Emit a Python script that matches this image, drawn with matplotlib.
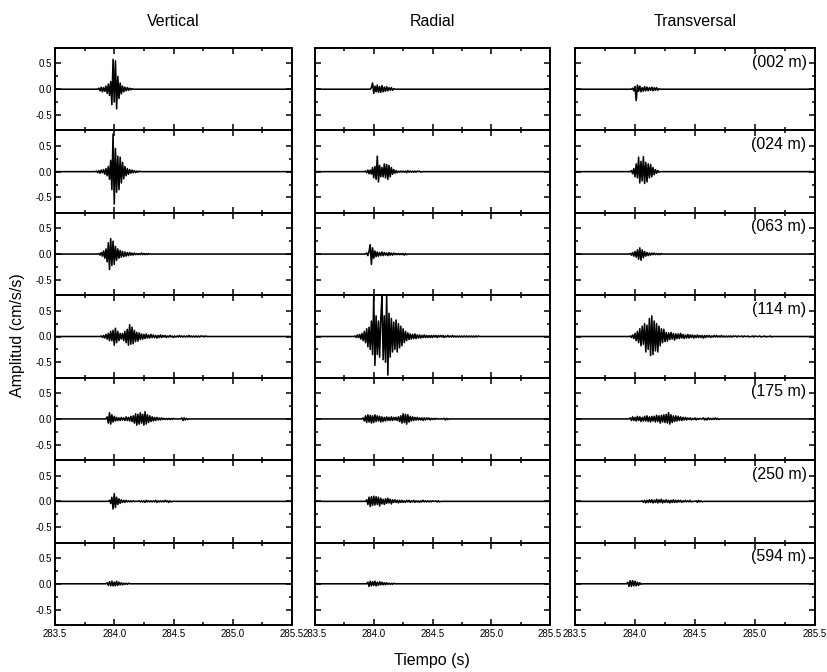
import numpy as np
import matplotlib
matplotlib.use("Agg")
import matplotlib.pyplot as plt
from matplotlib.ticker import MultipleLocator, FixedFormatter, FixedLocator

plt.rcParams['font.family'] = ['Liberation Sans', 'DejaVu Sans']

# time axis of every record (s), sampled every 0.01 s
T0, T1, DT = 283.5, 285.5, 0.01
t = np.round(np.arange(T0, T1 + DT / 2, DT), 2)

depths = ["(002 m)", "(024 m)", "(063 m)", "(114 m)", "(175 m)", "(250 m)", "(594 m)"]
components = ["Vertical", "Radial", "Transversal"]
xtick_labels = ["283.5", "284.0", "284.5", "285.0", "285.5"]

# acceleration records: onset time (s) and samples in units of 0.01 cm/s/s
vert_onsets = [283.86, 283.84, 283.86, 283.88, 283.93, 283.95, 283.93]
vert_002 = [0, 2, -3, 4, -5, 3, -4, 6, -8, 10, -12, 15, -30, 58, -25, 55, -38, 25, -18, 12,
            -9, 6, -5, 4, -3, 3, -2, 2, -1, 1, 0]
vert_024 = [0, 1, -2, 2, -3, 3, -2, 4, -5, 6, -8, 10, -15, 22, -35, 73, -63, 45, -40, 30,
            -35, 28, -22, 18, -14, 10, -8, 6, -5, 4, -3, 3, -2, 2, -2, 1, -1, 1, 0]
vert_063 = [0, 1, -2, 3, -4, 6, -8, 10, -15, 22, -30, 30, -22, 25, -20, 15, -12, 10, -8, 7,
            -6, 5, -5, 4, -4, 3, -3, 3, -2, 2, -2, 2, -1, 1, -1, 1, -1, 2, -1, 1,
            -1, 1, -1, 1, 0]
vert_114 = [0, 1, -2, 2, -3, 4, -5, 6, -8, 10, -8, 12, -17, 16, -12, 10, -8, 6, -5, 6,
            -8, 10, -12, 14, -17, 23, -15, 18, -14, 12, -10, 8, -9, 7, -6, 5, -5, 4, -4, 5,
            -3, 3, -3, 4, -2, 3, -2, 2, -3, 2, -2, 3, -2, 2, -1, 2, -2, 1, -1, 2,
            -1, 1, -2, 1, -1, 1, -1, 2, -1, 1, -1, 1, -1, 1, -1, 2, -1, 1, -1, 1,
            -1, 1, -1, 1, -1, 1, 0, 1, -1, 1, 0]
vert_175 = [0, 4, -8, 12, -10, 8, -6, 5, -4, 3, -3, 2, -3, 3, -2, 2, -3, 4, -3, 3,
            -4, 5, -5, 6, -8, 10, -12, 9, -10, 12, -8, 9, -12, 14, -10, 8, -7, 6, -5, 4,
            -4, 3, -3, 3, -2, 2, -2, 2, -1, 1, -1, 1, -1, 1, -1, 1, -1, 1, 0, 0,
            0, 0, 0, 0, 2, -3, 2, -2, 1, -1, 0]
vert_250 = [0, 2, -4, 8, -15, 15, -12, 8, -6, 5, -4, 3, -2, 2, -2, 2, -1, 1, -1, 1,
            -1, 1, 0, 0, 0, 0, 1, -1, 1, -1, 1, -2, 2, -1, 1, -1, 1, -1, 1, -1,
            2, -2, 1, -1, 1, -1, 1, -1, 2, -1, 1, -2, 1, -1, 0]
vert_594 = [0, 2, -3, 4, -4, 5, -4, 3, -4, 5, -3, 3, -2, 2, -2, 1, -1, 1, -1, 1, 0]

rad_onsets = [283.97, 283.92, 283.93, 283.83, 283.90, 283.93, 283.94]
rad_002 = [0, 3, 12, -8, 6, -5, 8, -6, 5, -6, 7, -5, 4, -4, 5, -3, 3, -2, 3, -2, 1, 0]
rad_024 = [0, 1, -2, 3, -4, 3, -5, 8, -12, 10, -15, 30, -20, 12, -10, 8, -10, 15, -12, 14,
           -15, 12, -10, 8, -5, 4, -3, 2, -2, 1, -1, 1, -1, 1, -1, 1, -2, 2, -1, 1,
           -1, 1, -1, 1, -1, 1, 0, 1, -1, 0]
rad_063 = [0, 2, -3, 5, 18, -20, 12, -8, 6, -5, 4, -4, 3, -3, 4, -3, 3, -2, 2, -3,
           3, -2, 2, -2, 2, -1, 1, -1, 1, -1, 1, -1, 1, -2, 1, -1, 0]
rad_114 = [0, 1, -2, 3, -2, 4, -5, 6, -8, 10, -12, 15, -20, 18, -25, 30, -35, 80, -56, 40,
           -35, 30, -40, 35, 78, -45, 40, -50, 80, -75, 45, -40, 35, -30, 28, -25, 32, -30, 25, -22,
           20, -18, 15, -12, 10, -8, 7, -6, 5, -5, 4, -4, 5, -4, 3, -3, 3, -3, 2, -2,
           3, -2, 2, -2, 2, -2, 2, -2, 2, -1, 2, -2, 2, -1, 2, -1, 2, -2, 1, -1,
           2, -1, 1, -1, 2, -1, 1, -1, 1, -1, 1, -1, 1, -1, 1, -1, 1, -1, 1, -1,
           1, -1, 1, -1, 1, -1, 1, 0]
rad_175 = [0, 2, -4, 6, -7, 8, -6, 7, -8, 6, -7, 8, -5, 6, -4, 5, -6, 4, -5, 3,
           -4, 4, -3, 3, -3, 4, -3, 3, -2, 3, -3, 4, -5, 6, -8, 10, -7, 9, -10, 8,
           -6, 5, -4, 4, -3, 3, -2, 3, -2, 2, -2, 2, -3, 2, -2, 2, -1, 2, -2, 1,
           -1, 1, -1, 1, 0, 0, 0, 0, 0, 0, 1, -2, 1, -1, 0]
rad_250 = [0, 3, -6, 8, -10, 9, -8, 10, -7, 9, -6, 8, -9, 6, -5, 4, -6, 5, -4, 6,
           -3, 4, -5, 3, -2, 3, -2, 2, -3, 2, -2, 2, -2, 1, -2, 2, -1, 2, -2, 1,
           -1, 2, -2, 1, -1, 1, -2, 1, -1, 2, -1, 1, -1, 1, -1, 1, -1, 1, 0, 0,
           1, -1, 1, -1, 0]
rad_594 = [0, 3, -5, 5, -4, 4, -3, 5, -4, 3, -3, 4, -2, 3, -2, 2, -2, 2, -1, 1,
           -1, 1, -1, 1, 0]

trans_onsets = [283.97, 283.96, 283.95, 283.95, 283.95, 284.05, 283.93]
trans_002 = [0, 2, -3, 5, -22, 8, -4, 6, -5, 3, -4, 5, -3, 4, -3, 3, -2, 4, -3, 3,
             -2, 3, -2, 1, 0]
trans_024 = [0, 2, -4, 6, -10, 15, -12, 28, -22, 20, -18, 29, -23, 18, -20, 15, -12, 14, -10, 8,
             -6, 4, -3, 2, -1, 0]
trans_063 = [0, 1, -2, 3, -4, 5, -6, 8, -10, 12, -12, 8, -7, 5, -4, 3, -3, 2, -2, 2,
             -1, 2, -1, 1, -1, 1, -1, 1, 0]
trans_114 = [0, 1, -2, 3, -4, 6, -8, 10, -12, 15, -18, 20, -15, 25, -30, 22, -25, 35, -37, 40,
             -35, 30, -28, 25, -30, 20, -18, 15, -12, 14, -10, 8, -9, 7, -6, 8, -5, 6, -7, 5,
             -4, 5, -4, 6, -3, 4, -4, 3, -3, 4, -3, 3, -2, 3, -3, 2, -2, 3, -2, 2,
             -2, 2, -3, 2, -2, 2, -1, 2, -2, 1, -1, 2, -1, 2, -1, 1, -1, 2, -1, 1,
             -1, 1, -1, 1, -1, 1, -1, 1, 0, 1, -1, 1, 0, 0, 1, -1, 1, 0, 0, 1,
             -1, 0, 0, 1, -1, 1, 0, 0, 0, 1, -1, 0, 0, 1, -1, 0, 0, 0, 1, -1, 0]
trans_175 = [0, 2, -3, 4, -3, 3, -4, 5, -3, 4, -5, 3, -4, 5, -4, 6, -5, 4, -6, 5,
             -4, 5, -6, 7, -5, 6, -8, 7, -6, 8, -7, 9, -8, 12, -10, 8, -7, 6, -5, 6,
             -4, 5, -3, 4, -3, 3, -2, 3, -2, 2, -1, 2, -2, 1, -1, 2, -2, 1, -1, 1,
             0, 0, 2, -2, 1, -2, 2, -1, 1, -1, 1, -1, 2, -1, 1, -1, 0]
trans_250 = [0, 1, -2, 2, -3, 2, -2, 3, -2, 3, -3, 2, -2, 4, -3, 3, -2, 4, -3, 2,
             -2, 3, -2, 2, -3, 2, -2, 3, -2, 2, -2, 2, -1, 2, -2, 1, -1, 2, -1, 1,
             -1, 2, -1, 0, 0, 0, 1, -2, 2, -1, 1, -1, 0]
trans_594 = [0, 3, -5, 6, -5, 6, -4, 5, -4, 3, -3, 2, -1, 0]

vert_records = [vert_002, vert_024, vert_063, vert_114, vert_175, vert_250, vert_594]
rad_records = [rad_002, rad_024, rad_063, rad_114, rad_175, rad_250, rad_594]
trans_records = [trans_002, trans_024, trans_063, trans_114, trans_175, trans_250, trans_594]


def build_trace(onset, vals):
    y = np.zeros_like(t)
    i0 = int(round((onset - T0) / DT))
    n = min(len(vals), len(t) - i0)
    y[i0:i0 + n] = np.asarray(vals[:n], dtype=float) * 0.01
    return y


fig = plt.figure(figsize=(8.27, 6.72), dpi=100)

col_left = [55 / 827, 315 / 827, 575 / 827]
col_width = [237 / 827, 235 / 827, 240 / 827]
top, bottom = 1 - 48 / 672, 1 - 625 / 672
row_h = (top - bottom) / 7

all_cols = [(vert_onsets, vert_records), (rad_onsets, rad_records), (trans_onsets, trans_records)]

for c, (onsets, records) in enumerate(all_cols):
    for r in range(7):
        ax = fig.add_axes([col_left[c], top - (r + 1) * row_h, col_width[c], row_h])
        ax.plot(t, build_trace(onsets[r], records[r]), color='black', lw=1.15)
        ax.set_xlim(T0, T1)
        ax.set_ylim(-0.8, 0.8)
        for s in ax.spines.values():
            s.set_linewidth(1.4)
        ax.xaxis.set_major_locator(MultipleLocator(0.5))
        ax.xaxis.set_minor_locator(MultipleLocator(0.25))
        ax.yaxis.set_major_locator(FixedLocator([-0.5, 0.0, 0.5]))
        ax.yaxis.set_minor_locator(FixedLocator([-0.25, 0.25]))
        ax.tick_params(which='both', direction='in', top=True, right=True, width=1.1)
        ax.tick_params(which='major', length=4.5)
        ax.tick_params(which='minor', length=2.5)
        if c == 0:
            ax.yaxis.set_major_formatter(FixedFormatter(["-0.5", "0.0", "0.5"]))
            ax.tick_params(axis='y', labelsize=7, pad=2)
        else:
            ax.set_yticklabels([])
        if r == 6:
            ax.set_xticks([283.5, 284.0, 284.5, 285.0, 285.5])
            ax.set_xticklabels(xtick_labels)
            ax.tick_params(axis='x', labelsize=7, pad=3)
        else:
            ax.set_xticklabels([])
        if c == 2:
            ax.text(0.965, 0.83, depths[r], transform=ax.transAxes, ha='right', va='center',
                    fontsize=11.5)

for c, name in enumerate(components):
    fig.text(col_left[c] + col_width[c] / 2, 1 - 22 / 672, name, ha='center', va='center',
             fontsize=11.5)

fig.text(18 / 827, 1 - 335 / 672, "Amplitud (cm/s/s)", rotation=90, ha='center', va='center',
         fontsize=11.5)
fig.text(432 / 827, 1 - 660 / 672, "Tiempo (s)", ha='center', va='center', fontsize=11.5)

fig.savefig("out.png", dpi=100, facecolor='white')
